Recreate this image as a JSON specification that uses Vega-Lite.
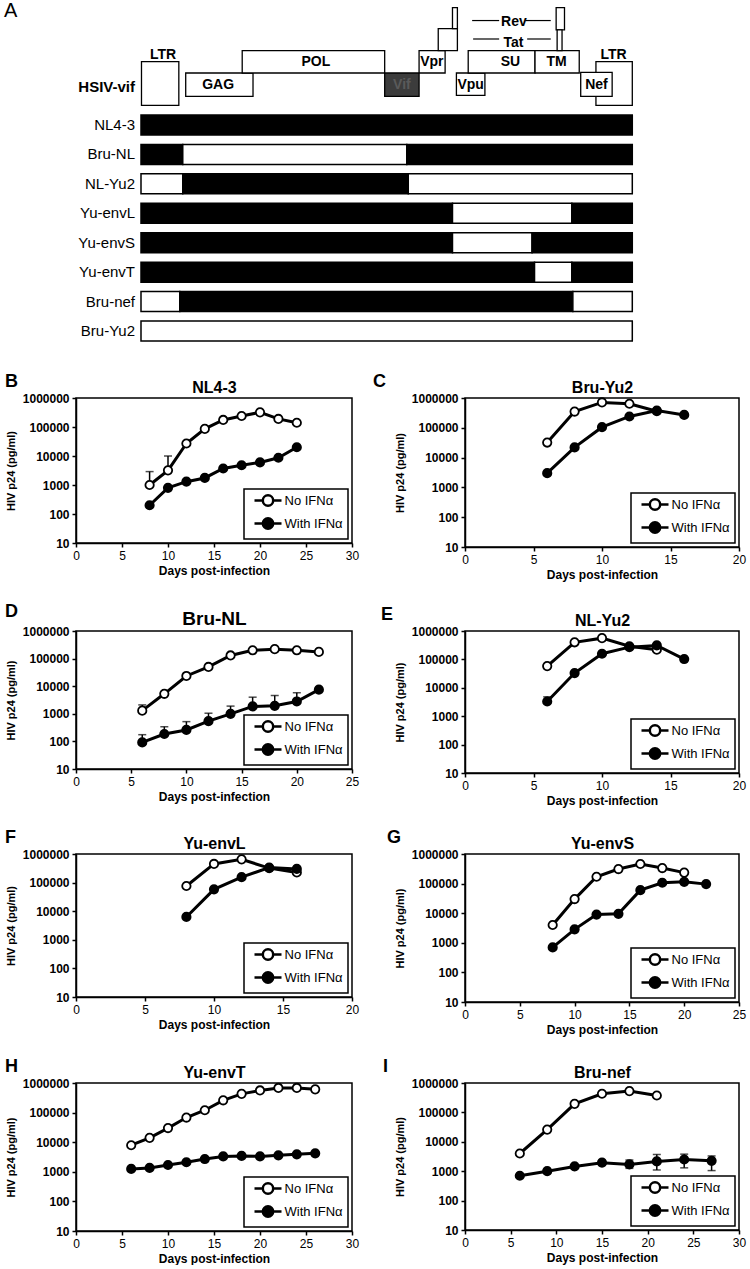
{
"$schema": "https://vega.github.io/schema/vega-lite/v6.json",
"background": "white",
"padding": {"left": 4, "top": 0, "right": 4, "bottom": 0},
"spacing": 21,
"resolve": {"scale": {"fill": "independent"}, "legend": {"fill": "independent"}},
"datasets": {
"strains": [
{"strain": "NL4-3", "track": 1, "start": 0, "end": 1000, "seq": "NL4-3"},
{"strain": "Bru-NL", "track": 2, "start": 0, "end": 85, "seq": "NL4-3"},
{"strain": "Bru-NL", "track": 2, "start": 85, "end": 541, "seq": "non-NL4-3"},
{"strain": "Bru-NL", "track": 2, "start": 541, "end": 1000, "seq": "NL4-3"},
{"strain": "NL-Yu2", "track": 3, "start": 0, "end": 85, "seq": "non-NL4-3"},
{"strain": "NL-Yu2", "track": 3, "start": 85, "end": 544, "seq": "NL4-3"},
{"strain": "NL-Yu2", "track": 3, "start": 544, "end": 1000, "seq": "non-NL4-3"},
{"strain": "Yu-envL", "track": 4, "start": 0, "end": 634, "seq": "NL4-3"},
{"strain": "Yu-envL", "track": 4, "start": 634, "end": 877, "seq": "non-NL4-3"},
{"strain": "Yu-envL", "track": 4, "start": 877, "end": 1000, "seq": "NL4-3"},
{"strain": "Yu-envS", "track": 5, "start": 0, "end": 634, "seq": "NL4-3"},
{"strain": "Yu-envS", "track": 5, "start": 634, "end": 796, "seq": "non-NL4-3"},
{"strain": "Yu-envS", "track": 5, "start": 796, "end": 1000, "seq": "NL4-3"},
{"strain": "Yu-envT", "track": 6, "start": 0, "end": 801, "seq": "NL4-3"},
{"strain": "Yu-envT", "track": 6, "start": 801, "end": 877, "seq": "non-NL4-3"},
{"strain": "Yu-envT", "track": 6, "start": 877, "end": 1000, "seq": "NL4-3"},
{"strain": "Bru-nef", "track": 7, "start": 0, "end": 79, "seq": "non-NL4-3"},
{"strain": "Bru-nef", "track": 7, "start": 79, "end": 879, "seq": "NL4-3"},
{"strain": "Bru-nef", "track": 7, "start": 879, "end": 1000, "seq": "non-NL4-3"},
{"strain": "Bru-Yu2", "track": 8, "start": 0, "end": 1000, "seq": "non-NL4-3"}
],
"genes": [
{"gene": "LTR", "start": 1, "end": 77, "top": -1.152, "bottom": 0.333},
{"gene": "GAG", "start": 91, "end": 228, "top": -0.766, "bottom": 0.026},
{"gene": "POL", "start": 206, "end": 496, "top": -1.525, "bottom": -0.766},
{"gene": "Vif", "start": 496, "end": 566, "top": -0.766, "bottom": 0.026},
{"gene": "Vpr", "start": 566, "end": 619, "top": -1.525, "bottom": -0.766},
{"gene": "Vpr exon", "start": 605, "end": 644, "top": -2.274, "bottom": -1.525},
{"gene": "Vpr tail", "start": 634, "end": 644, "top": -2.987, "bottom": -2.274},
{"gene": "Vpu", "start": 642, "end": 700, "top": -0.766, "bottom": -0.007},
{"gene": "SU", "start": 666, "end": 802, "top": -1.525, "bottom": -0.766},
{"gene": "TM", "start": 802, "end": 892, "top": -1.525, "bottom": -0.766},
{"gene": "Rev exon", "start": 845, "end": 862, "top": -2.987, "bottom": -2.228},
{"gene": "Tat exon", "start": 847, "end": 857, "top": -2.228, "bottom": -1.525},
{"gene": "LTR", "start": 926, "end": 1000, "top": -1.152, "bottom": 0.333},
{"gene": "Nef", "start": 895, "end": 959, "top": -0.789, "bottom": 0.026}
],
"glabels": [
{"label": "LTR", "pos": 45, "track": -1.393},
{"label": "LTR", "pos": 962, "track": -1.393},
{"label": "GAG", "pos": 157, "track": -0.37},
{"label": "POL", "pos": 356, "track": -1.129},
{"label": "Vif", "pos": 531, "track": -0.37},
{"label": "Vpr", "pos": 592, "track": -1.129},
{"label": "Vpu", "pos": 671, "track": -0.37},
{"label": "SU", "pos": 752, "track": -1.129},
{"label": "TM", "pos": 846, "track": -1.129},
{"label": "Nef", "pos": 927, "track": -0.37},
{"label": "Rev", "pos": 759, "track": -2.515},
{"label": "Tat", "pos": 758, "track": -1.772}
],
"revtat": [
{"label": "Rev", "start": 674, "end": 729, "track": -2.548},
{"label": "Rev", "start": 782, "end": 834, "track": -2.548},
{"label": "Tat", "start": 676, "end": 729, "track": -1.921},
{"label": "Tat", "start": 786, "end": 834, "track": -1.921}
],
"construct": [
{"label": "HSIV-vif", "track": -0.304}
],
"p24": [
{"panel": "B", "series": "No IFNα", "day": 8, "p24": 1000},
{"panel": "B", "series": "No IFNα", "day": 10, "p24": 3200},
{"panel": "B", "series": "No IFNα", "day": 12, "p24": 27000},
{"panel": "B", "series": "No IFNα", "day": 14, "p24": 86000},
{"panel": "B", "series": "No IFNα", "day": 16, "p24": 175000},
{"panel": "B", "series": "No IFNα", "day": 18, "p24": 240000},
{"panel": "B", "series": "No IFNα", "day": 20, "p24": 320000},
{"panel": "B", "series": "No IFNα", "day": 22, "p24": 190000},
{"panel": "B", "series": "No IFNα", "day": 24, "p24": 140000},
{"panel": "B", "series": "With IFNα", "day": 8, "p24": 200},
{"panel": "B", "series": "With IFNα", "day": 10, "p24": 800},
{"panel": "B", "series": "With IFNα", "day": 12, "p24": 1300},
{"panel": "B", "series": "With IFNα", "day": 14, "p24": 1750},
{"panel": "B", "series": "With IFNα", "day": 16, "p24": 3700},
{"panel": "B", "series": "With IFNα", "day": 18, "p24": 4800},
{"panel": "B", "series": "With IFNα", "day": 20, "p24": 6000},
{"panel": "B", "series": "With IFNα", "day": 22, "p24": 8700},
{"panel": "B", "series": "With IFNα", "day": 24, "p24": 20000},
{"panel": "C", "series": "No IFNα", "day": 6, "p24": 32000},
{"panel": "C", "series": "No IFNα", "day": 8, "p24": 350000},
{"panel": "C", "series": "No IFNα", "day": 10, "p24": 710000},
{"panel": "C", "series": "No IFNα", "day": 12, "p24": 640000},
{"panel": "C", "series": "No IFNα", "day": 14, "p24": 360000},
{"panel": "C", "series": "With IFNα", "day": 6, "p24": 3000},
{"panel": "C", "series": "With IFNα", "day": 8, "p24": 22000},
{"panel": "C", "series": "With IFNα", "day": 10, "p24": 105000},
{"panel": "C", "series": "With IFNα", "day": 12, "p24": 240000},
{"panel": "C", "series": "With IFNα", "day": 14, "p24": 380000},
{"panel": "C", "series": "With IFNα", "day": 16, "p24": 270000},
{"panel": "D", "series": "No IFNα", "day": 6, "p24": 1300},
{"panel": "D", "series": "No IFNα", "day": 8, "p24": 5300},
{"panel": "D", "series": "No IFNα", "day": 10, "p24": 23500},
{"panel": "D", "series": "No IFNα", "day": 12, "p24": 50000},
{"panel": "D", "series": "No IFNα", "day": 14, "p24": 130000},
{"panel": "D", "series": "No IFNα", "day": 16, "p24": 200000},
{"panel": "D", "series": "No IFNα", "day": 18, "p24": 220000},
{"panel": "D", "series": "No IFNα", "day": 20, "p24": 200000},
{"panel": "D", "series": "No IFNα", "day": 22, "p24": 175000},
{"panel": "D", "series": "With IFNα", "day": 6, "p24": 92},
{"panel": "D", "series": "With IFNα", "day": 8, "p24": 185},
{"panel": "D", "series": "With IFNα", "day": 10, "p24": 260},
{"panel": "D", "series": "With IFNα", "day": 12, "p24": 540},
{"panel": "D", "series": "With IFNα", "day": 14, "p24": 1000},
{"panel": "D", "series": "With IFNα", "day": 16, "p24": 1850},
{"panel": "D", "series": "With IFNα", "day": 18, "p24": 1950},
{"panel": "D", "series": "With IFNα", "day": 20, "p24": 2800},
{"panel": "D", "series": "With IFNα", "day": 22, "p24": 7500},
{"panel": "E", "series": "No IFNα", "day": 6, "p24": 58000},
{"panel": "E", "series": "No IFNα", "day": 8, "p24": 400000},
{"panel": "E", "series": "No IFNα", "day": 10, "p24": 560000},
{"panel": "E", "series": "No IFNα", "day": 12, "p24": 290000},
{"panel": "E", "series": "No IFNα", "day": 14, "p24": 220000},
{"panel": "E", "series": "With IFNα", "day": 6, "p24": 3300},
{"panel": "E", "series": "With IFNα", "day": 8, "p24": 33000},
{"panel": "E", "series": "With IFNα", "day": 10, "p24": 158000},
{"panel": "E", "series": "With IFNα", "day": 12, "p24": 270000},
{"panel": "E", "series": "With IFNα", "day": 14, "p24": 310000},
{"panel": "E", "series": "With IFNα", "day": 16, "p24": 103000},
{"panel": "F", "series": "No IFNα", "day": 8, "p24": 76000},
{"panel": "F", "series": "No IFNα", "day": 10, "p24": 450000},
{"panel": "F", "series": "No IFNα", "day": 12, "p24": 650000},
{"panel": "F", "series": "No IFNα", "day": 14, "p24": 320000},
{"panel": "F", "series": "No IFNα", "day": 16, "p24": 225000},
{"panel": "F", "series": "With IFNα", "day": 8, "p24": 6300},
{"panel": "F", "series": "With IFNα", "day": 10, "p24": 58000},
{"panel": "F", "series": "With IFNα", "day": 12, "p24": 155000},
{"panel": "F", "series": "With IFNα", "day": 14, "p24": 335000},
{"panel": "F", "series": "With IFNα", "day": 16, "p24": 300000},
{"panel": "G", "series": "No IFNα", "day": 8, "p24": 4000},
{"panel": "G", "series": "No IFNα", "day": 10, "p24": 30000},
{"panel": "G", "series": "No IFNα", "day": 12, "p24": 170000},
{"panel": "G", "series": "No IFNα", "day": 14, "p24": 310000},
{"panel": "G", "series": "No IFNα", "day": 16, "p24": 460000},
{"panel": "G", "series": "No IFNα", "day": 18, "p24": 335000},
{"panel": "G", "series": "No IFNα", "day": 20, "p24": 235000},
{"panel": "G", "series": "With IFNα", "day": 8, "p24": 700},
{"panel": "G", "series": "With IFNα", "day": 10, "p24": 2850},
{"panel": "G", "series": "With IFNα", "day": 12, "p24": 9000},
{"panel": "G", "series": "With IFNα", "day": 14, "p24": 9500},
{"panel": "G", "series": "With IFNα", "day": 16, "p24": 60000},
{"panel": "G", "series": "With IFNα", "day": 18, "p24": 107000},
{"panel": "G", "series": "With IFNα", "day": 20, "p24": 115000},
{"panel": "G", "series": "With IFNα", "day": 22, "p24": 96000},
{"panel": "H", "series": "No IFNα", "day": 6, "p24": 7900},
{"panel": "H", "series": "No IFNα", "day": 8, "p24": 14000},
{"panel": "H", "series": "No IFNα", "day": 10, "p24": 30000},
{"panel": "H", "series": "No IFNα", "day": 12, "p24": 68000},
{"panel": "H", "series": "No IFNα", "day": 14, "p24": 120000},
{"panel": "H", "series": "No IFNα", "day": 16, "p24": 260000},
{"panel": "H", "series": "No IFNα", "day": 18, "p24": 430000},
{"panel": "H", "series": "No IFNα", "day": 20, "p24": 560000},
{"panel": "H", "series": "No IFNα", "day": 22, "p24": 680000},
{"panel": "H", "series": "No IFNα", "day": 24, "p24": 680000},
{"panel": "H", "series": "No IFNα", "day": 26, "p24": 610000},
{"panel": "H", "series": "With IFNα", "day": 6, "p24": 1250},
{"panel": "H", "series": "With IFNα", "day": 8, "p24": 1350},
{"panel": "H", "series": "With IFNα", "day": 10, "p24": 1700},
{"panel": "H", "series": "With IFNα", "day": 12, "p24": 2100},
{"panel": "H", "series": "With IFNα", "day": 14, "p24": 2700},
{"panel": "H", "series": "With IFNα", "day": 16, "p24": 3300},
{"panel": "H", "series": "With IFNα", "day": 18, "p24": 3450},
{"panel": "H", "series": "With IFNα", "day": 20, "p24": 3300},
{"panel": "H", "series": "With IFNα", "day": 22, "p24": 3600},
{"panel": "H", "series": "With IFNα", "day": 24, "p24": 3900},
{"panel": "H", "series": "With IFNα", "day": 26, "p24": 4200},
{"panel": "I", "series": "No IFNα", "day": 6, "p24": 4000},
{"panel": "I", "series": "No IFNα", "day": 9, "p24": 26000},
{"panel": "I", "series": "No IFNα", "day": 12, "p24": 195000},
{"panel": "I", "series": "No IFNα", "day": 15, "p24": 430000},
{"panel": "I", "series": "No IFNα", "day": 18, "p24": 530000},
{"panel": "I", "series": "No IFNα", "day": 21, "p24": 375000},
{"panel": "I", "series": "With IFNα", "day": 6, "p24": 700},
{"panel": "I", "series": "With IFNα", "day": 9, "p24": 1000},
{"panel": "I", "series": "With IFNα", "day": 12, "p24": 1450},
{"panel": "I", "series": "With IFNα", "day": 15, "p24": 1950},
{"panel": "I", "series": "With IFNα", "day": 18, "p24": 1700},
{"panel": "I", "series": "With IFNα", "day": 21, "p24": 2150},
{"panel": "I", "series": "With IFNα", "day": 24, "p24": 2500},
{"panel": "I", "series": "With IFNα", "day": 27, "p24": 2250}
],
"err": [
{"panel": "B", "series": "No IFNα", "day": 8, "lo": 1000, "hi": 2900},
{"panel": "B", "series": "No IFNα", "day": 10, "lo": 3200, "hi": 10000},
{"panel": "D", "series": "No IFNα", "day": 6, "lo": 1300, "hi": 2100},
{"panel": "D", "series": "With IFNα", "day": 6, "lo": 92, "hi": 175},
{"panel": "D", "series": "With IFNα", "day": 8, "lo": 185, "hi": 340},
{"panel": "D", "series": "With IFNα", "day": 10, "lo": 260, "hi": 520},
{"panel": "D", "series": "With IFNα", "day": 12, "lo": 540, "hi": 1050},
{"panel": "D", "series": "With IFNα", "day": 14, "lo": 1000, "hi": 1900},
{"panel": "D", "series": "With IFNα", "day": 16, "lo": 1850, "hi": 4000},
{"panel": "D", "series": "With IFNα", "day": 18, "lo": 1950, "hi": 4600},
{"panel": "D", "series": "With IFNα", "day": 20, "lo": 2800, "hi": 5800},
{"panel": "E", "series": "With IFNα", "day": 6, "lo": 3300, "hi": 4800},
{"panel": "I", "series": "With IFNα", "day": 15, "lo": 1650, "hi": 2300},
{"panel": "I", "series": "With IFNα", "day": 18, "lo": 1250, "hi": 2400},
{"panel": "I", "series": "With IFNα", "day": 21, "lo": 1100, "hi": 3700},
{"panel": "I", "series": "With IFNα", "day": 24, "lo": 1300, "hi": 3800},
{"panel": "I", "series": "With IFNα", "day": 27, "lo": 1050, "hi": 3300}
]
},
"vconcat": [
{
"width": 669, "height": 351,
"view": {"stroke": null},
"title": {"text": "A", "anchor": "start", "frame": "group", "fontSize": 20, "fontWeight": "normal", "offset": -21, "dx": -72},
"layer": [
{"data": {"name": "genes"},
 "mark": {"type": "rect", "stroke": "black", "strokeWidth": 1.3},
 "encoding": {
  "x": {"field": "start", "type": "quantitative", "scale": {"domain": [-132.3, 1229.4]}, "axis": null},
  "x2": {"field": "end"},
  "y": {"field": "top", "type": "quantitative", "scale": {"domain": [-3.076, 8.508], "reverse": true}, "axis": null},
  "y2": {"field": "bottom"},
  "fill": {"condition": {"test": "datum.gene === 'Vif'", "value": "#3c3c3c"}, "value": "white"}}},
{"data": {"name": "revtat"},
 "mark": {"type": "rule", "color": "black", "strokeWidth": 1.2},
 "encoding": {
  "x": {"field": "start", "type": "quantitative", "scale": {"domain": [-132.3, 1229.4]}, "axis": null},
  "x2": {"field": "end"},
  "y": {"field": "track", "type": "quantitative", "scale": {"domain": [-3.076, 8.508], "reverse": true}, "axis": null}}},
{"data": {"name": "glabels"},
 "mark": {"type": "text", "fontSize": 14, "fontWeight": "bold", "align": "center", "baseline": "middle"},
 "encoding": {
  "x": {"field": "pos", "type": "quantitative", "scale": {"domain": [-132.3, 1229.4]}, "axis": null},
  "y": {"field": "track", "type": "quantitative", "scale": {"domain": [-3.076, 8.508], "reverse": true}, "axis": null},
  "text": {"field": "label"},
  "color": {"condition": {"test": "datum.label === 'Vif'", "value": "#5a5a5a"}, "value": "black"}}},
{"data": {"name": "construct"},
 "mark": {"type": "text", "fontSize": 15, "fontWeight": "bold", "align": "right", "baseline": "middle", "dx": -6, "color": "black"},
 "encoding": {
  "x": {"datum": 0, "type": "quantitative", "scale": {"domain": [-132.3, 1229.4]}, "axis": null},
  "y": {"field": "track", "type": "quantitative", "scale": {"domain": [-3.076, 8.508], "reverse": true}, "axis": null},
  "text": {"field": "label"}}},
{"data": {"name": "strains"},
 "mark": {"type": "bar", "orient": "horizontal", "size": 20, "stroke": "black", "strokeWidth": 1.5},
 "encoding": {
  "x": {"field": "start", "type": "quantitative", "scale": {"domain": [-132.3, 1229.4]}, "axis": null},
  "x2": {"field": "end"},
  "y": {"field": "track", "type": "quantitative", "scale": {"domain": [-3.076, 8.508], "reverse": true}, "axis": null},
  "fill": {"field": "seq", "type": "nominal", "scale": {"domain": ["NL4-3", "non-NL4-3"], "range": ["black", "white"]}, "legend": null}}},
{"data": {"name": "strains"},
 "transform": [{"filter": "datum.start === 0"}],
 "mark": {"type": "text", "fontSize": 15, "align": "right", "baseline": "middle", "dx": -6, "color": "black"},
 "encoding": {
  "x": {"datum": 0, "type": "quantitative", "scale": {"domain": [-132.3, 1229.4]}, "axis": null},
  "y": {"field": "track", "type": "quantitative", "scale": {"domain": [-3.076, 8.508], "reverse": true}, "axis": null},
  "text": {"field": "strain"}}}
]
},
{
"hconcat": [
{
"width": 276, "height": 145,
"title": {"text": "B", "anchor": "start", "frame": "bounds", "fontSize": 18, "fontWeight": "bold", "offset": -12},
"resolve": {"axis": {"x": "independent", "y": "independent"}},
"layer": [
{"data": {"name": "err"}, "transform": [{"filter": "datum.panel === 'B'"}],
 "mark": {"type": "errorbar", "ticks": {"size": 8, "thickness": 1.5, "color": "black"}, "rule": {"strokeWidth": 1.5, "color": "black"}},
 "encoding": {"x": {"field": "day", "type": "quantitative", "scale": {"domain": [0, 30]}, "axis": null},
  "y": {"field": "lo", "type": "quantitative", "scale": {"type": "log", "domain": [10, 1000000]}, "axis": null}, "y2": {"field": "hi"}}},
{"data": {"name": "p24"}, "transform": [{"filter": "datum.panel === 'B'"}],
 "mark": {"type": "line", "color": "black", "strokeWidth": 3},
 "encoding": {"x": {"field": "day", "type": "quantitative", "scale": {"domain": [0, 30]}, "axis": {"orient": "top", "title": "NL4-3", "labels": false, "ticks": false, "domain": false, "titleFontSize": 16, "titlePadding": 3}},
  "y": {"field": "p24", "type": "quantitative", "scale": {"type": "log", "domain": [10, 1000000]}, "axis": null},
  "detail": {"field": "series"}}},
{"data": {"name": "p24"}, "transform": [{"filter": "datum.panel === 'B'"}],
 "mark": {"type": "point", "shape": "circle", "filled": true, "size": 70, "stroke": "black", "strokeWidth": 1.8, "opacity": 1},
 "encoding": {"x": {"field": "day", "type": "quantitative", "scale": {"domain": [0, 30]}, "title": "Days post-infection", "axis": {"values": [0, 5, 10, 15, 20, 25, 30]}},
  "y": {"field": "p24", "type": "quantitative", "scale": {"type": "log", "domain": [10, 1000000]}, "title": "HIV p24 (pg/ml)", "axis": {"values": [10, 100, 1000, 10000, 100000, 1000000], "format": "d"}},
  "fill": {"field": "series", "type": "nominal", "scale": {"domain": ["No IFNα", "With IFNα"], "range": ["white", "black"]}, "legend": {"title": null}}}}
]
},
{
"width": 274, "height": 149,
"title": {"text": "C", "anchor": "start", "frame": "bounds", "fontSize": 18, "fontWeight": "bold", "offset": -12, "dx": -21},
"resolve": {"axis": {"x": "independent", "y": "independent"}},
"layer": [
{"data": {"name": "p24"}, "transform": [{"filter": "datum.panel === 'C'"}],
 "mark": {"type": "line", "color": "black", "strokeWidth": 3},
 "encoding": {"x": {"field": "day", "type": "quantitative", "scale": {"domain": [0, 20]}, "axis": {"orient": "top", "title": "Bru-Yu2", "labels": false, "ticks": false, "domain": false, "titleFontSize": 16, "titlePadding": 3}},
  "y": {"field": "p24", "type": "quantitative", "scale": {"type": "log", "domain": [10, 1000000]}, "axis": null},
  "detail": {"field": "series"}}},
{"data": {"name": "p24"}, "transform": [{"filter": "datum.panel === 'C'"}],
 "mark": {"type": "point", "shape": "circle", "filled": true, "size": 70, "stroke": "black", "strokeWidth": 1.8, "opacity": 1},
 "encoding": {"x": {"field": "day", "type": "quantitative", "scale": {"domain": [0, 20]}, "title": "Days post-infection", "axis": {"values": [0, 5, 10, 15, 20]}},
  "y": {"field": "p24", "type": "quantitative", "scale": {"type": "log", "domain": [10, 1000000]}, "title": "HIV p24 (pg/ml)", "axis": {"values": [10, 100, 1000, 10000, 100000, 1000000], "format": "d"}},
  "fill": {"field": "series", "type": "nominal", "scale": {"domain": ["No IFNα", "With IFNα"], "range": ["white", "black"]}, "legend": {"title": null}}}}
]
}
],
"spacing": 113, "bounds": "flush",
"resolve": {"scale": {"fill": "independent"}, "legend": {"fill": "independent"}}
},
{
"hconcat": [
{
"width": 276, "height": 138,
"title": {"text": "D", "anchor": "start", "frame": "bounds", "fontSize": 18, "fontWeight": "bold", "offset": -12},
"resolve": {"axis": {"x": "independent", "y": "independent"}},
"layer": [
{"data": {"name": "err"}, "transform": [{"filter": "datum.panel === 'D'"}],
 "mark": {"type": "errorbar", "ticks": {"size": 8, "thickness": 1.5, "color": "black"}, "rule": {"strokeWidth": 1.5, "color": "black"}},
 "encoding": {"x": {"field": "day", "type": "quantitative", "scale": {"domain": [0, 25]}, "axis": null},
  "y": {"field": "lo", "type": "quantitative", "scale": {"type": "log", "domain": [10, 1000000]}, "axis": null}, "y2": {"field": "hi"}}},
{"data": {"name": "p24"}, "transform": [{"filter": "datum.panel === 'D'"}],
 "mark": {"type": "line", "color": "black", "strokeWidth": 3},
 "encoding": {"x": {"field": "day", "type": "quantitative", "scale": {"domain": [0, 25]}, "axis": {"orient": "top", "title": "Bru-NL", "labels": false, "ticks": false, "domain": false, "titleFontSize": 19, "titlePadding": 3}},
  "y": {"field": "p24", "type": "quantitative", "scale": {"type": "log", "domain": [10, 1000000]}, "axis": null},
  "detail": {"field": "series"}}},
{"data": {"name": "p24"}, "transform": [{"filter": "datum.panel === 'D'"}],
 "mark": {"type": "point", "shape": "circle", "filled": true, "size": 70, "stroke": "black", "strokeWidth": 1.8, "opacity": 1},
 "encoding": {"x": {"field": "day", "type": "quantitative", "scale": {"domain": [0, 25]}, "title": "Days post-infection", "axis": {"values": [0, 5, 10, 15, 20, 25]}},
  "y": {"field": "p24", "type": "quantitative", "scale": {"type": "log", "domain": [10, 1000000]}, "title": "HIV p24 (pg/ml)", "axis": {"values": [10, 100, 1000, 10000, 100000, 1000000], "format": "d"}},
  "fill": {"field": "series", "type": "nominal", "scale": {"domain": ["No IFNα", "With IFNα"], "range": ["white", "black"]}, "legend": {"title": null}}}}
]
},
{
"width": 274, "height": 142,
"title": {"text": "E", "anchor": "start", "frame": "bounds", "fontSize": 18, "fontWeight": "bold", "offset": -12, "dx": -13},
"resolve": {"axis": {"x": "independent", "y": "independent"}},
"layer": [
{"data": {"name": "err"}, "transform": [{"filter": "datum.panel === 'E'"}],
 "mark": {"type": "errorbar", "ticks": {"size": 8, "thickness": 1.5, "color": "black"}, "rule": {"strokeWidth": 1.5, "color": "black"}},
 "encoding": {"x": {"field": "day", "type": "quantitative", "scale": {"domain": [0, 20]}, "axis": null},
  "y": {"field": "lo", "type": "quantitative", "scale": {"type": "log", "domain": [10, 1000000]}, "axis": null}, "y2": {"field": "hi"}}},
{"data": {"name": "p24"}, "transform": [{"filter": "datum.panel === 'E'"}],
 "mark": {"type": "line", "color": "black", "strokeWidth": 3},
 "encoding": {"x": {"field": "day", "type": "quantitative", "scale": {"domain": [0, 20]}, "axis": {"orient": "top", "title": "NL-Yu2", "labels": false, "ticks": false, "domain": false, "titleFontSize": 16, "titlePadding": 3}},
  "y": {"field": "p24", "type": "quantitative", "scale": {"type": "log", "domain": [10, 1000000]}, "axis": null},
  "detail": {"field": "series"}}},
{"data": {"name": "p24"}, "transform": [{"filter": "datum.panel === 'E'"}],
 "mark": {"type": "point", "shape": "circle", "filled": true, "size": 70, "stroke": "black", "strokeWidth": 1.8, "opacity": 1},
 "encoding": {"x": {"field": "day", "type": "quantitative", "scale": {"domain": [0, 20]}, "title": "Days post-infection", "axis": {"values": [0, 5, 10, 15, 20]}},
  "y": {"field": "p24", "type": "quantitative", "scale": {"type": "log", "domain": [10, 1000000]}, "title": "HIV p24 (pg/ml)", "axis": {"values": [10, 100, 1000, 10000, 100000, 1000000], "format": "d"}},
  "fill": {"field": "series", "type": "nominal", "scale": {"domain": ["No IFNα", "With IFNα"], "range": ["white", "black"]}, "legend": {"title": null}}}}
]
}
],
"spacing": 113, "bounds": "flush",
"resolve": {"scale": {"fill": "independent"}, "legend": {"fill": "independent"}}
},
{
"hconcat": [
{
"width": 276, "height": 143,
"title": {"text": "F", "anchor": "start", "frame": "bounds", "fontSize": 18, "fontWeight": "bold", "offset": -12},
"resolve": {"axis": {"x": "independent", "y": "independent"}},
"layer": [
{"data": {"name": "p24"}, "transform": [{"filter": "datum.panel === 'F'"}],
 "mark": {"type": "line", "color": "black", "strokeWidth": 3},
 "encoding": {"x": {"field": "day", "type": "quantitative", "scale": {"domain": [0, 20]}, "axis": {"orient": "top", "title": "Yu-envL", "labels": false, "ticks": false, "domain": false, "titleFontSize": 16, "titlePadding": 3}},
  "y": {"field": "p24", "type": "quantitative", "scale": {"type": "log", "domain": [10, 1000000]}, "axis": null},
  "detail": {"field": "series"}}},
{"data": {"name": "p24"}, "transform": [{"filter": "datum.panel === 'F'"}],
 "mark": {"type": "point", "shape": "circle", "filled": true, "size": 70, "stroke": "black", "strokeWidth": 1.8, "opacity": 1},
 "encoding": {"x": {"field": "day", "type": "quantitative", "scale": {"domain": [0, 20]}, "title": "Days post-infection", "axis": {"values": [0, 5, 10, 15, 20]}},
  "y": {"field": "p24", "type": "quantitative", "scale": {"type": "log", "domain": [10, 1000000]}, "title": "HIV p24 (pg/ml)", "axis": {"values": [10, 100, 1000, 10000, 100000, 1000000], "format": "d"}},
  "fill": {"field": "series", "type": "nominal", "scale": {"domain": ["No IFNα", "With IFNα"], "range": ["white", "black"]}, "legend": {"title": null}}}}
]
},
{
"width": 274, "height": 148,
"title": {"text": "G", "anchor": "start", "frame": "bounds", "fontSize": 18, "fontWeight": "bold", "offset": -12, "dx": -7},
"resolve": {"axis": {"x": "independent", "y": "independent"}},
"layer": [
{"data": {"name": "p24"}, "transform": [{"filter": "datum.panel === 'G'"}],
 "mark": {"type": "line", "color": "black", "strokeWidth": 3},
 "encoding": {"x": {"field": "day", "type": "quantitative", "scale": {"domain": [0, 25]}, "axis": {"orient": "top", "title": "Yu-envS", "labels": false, "ticks": false, "domain": false, "titleFontSize": 16, "titlePadding": 3}},
  "y": {"field": "p24", "type": "quantitative", "scale": {"type": "log", "domain": [10, 1000000]}, "axis": null},
  "detail": {"field": "series"}}},
{"data": {"name": "p24"}, "transform": [{"filter": "datum.panel === 'G'"}],
 "mark": {"type": "point", "shape": "circle", "filled": true, "size": 70, "stroke": "black", "strokeWidth": 1.8, "opacity": 1},
 "encoding": {"x": {"field": "day", "type": "quantitative", "scale": {"domain": [0, 25]}, "title": "Days post-infection", "axis": {"values": [0, 5, 10, 15, 20, 25]}},
  "y": {"field": "p24", "type": "quantitative", "scale": {"type": "log", "domain": [10, 1000000]}, "title": "HIV p24 (pg/ml)", "axis": {"values": [10, 100, 1000, 10000, 100000, 1000000], "format": "d"}},
  "fill": {"field": "series", "type": "nominal", "scale": {"domain": ["No IFNα", "With IFNα"], "range": ["white", "black"]}, "legend": {"title": null}}}}
]
}
],
"spacing": 113, "bounds": "flush",
"resolve": {"scale": {"fill": "independent"}, "legend": {"fill": "independent"}}
},
{
"hconcat": [
{
"width": 276, "height": 148,
"title": {"text": "H", "anchor": "start", "frame": "bounds", "fontSize": 18, "fontWeight": "bold", "offset": -12},
"resolve": {"axis": {"x": "independent", "y": "independent"}},
"layer": [
{"data": {"name": "p24"}, "transform": [{"filter": "datum.panel === 'H'"}],
 "mark": {"type": "line", "color": "black", "strokeWidth": 3},
 "encoding": {"x": {"field": "day", "type": "quantitative", "scale": {"domain": [0, 30]}, "axis": {"orient": "top", "title": "Yu-envT", "labels": false, "ticks": false, "domain": false, "titleFontSize": 16, "titlePadding": 3}},
  "y": {"field": "p24", "type": "quantitative", "scale": {"type": "log", "domain": [10, 1000000]}, "axis": null},
  "detail": {"field": "series"}}},
{"data": {"name": "p24"}, "transform": [{"filter": "datum.panel === 'H'"}],
 "mark": {"type": "point", "shape": "circle", "filled": true, "size": 70, "stroke": "black", "strokeWidth": 1.8, "opacity": 1},
 "encoding": {"x": {"field": "day", "type": "quantitative", "scale": {"domain": [0, 30]}, "title": "Days post-infection", "axis": {"values": [0, 5, 10, 15, 20, 25, 30]}},
  "y": {"field": "p24", "type": "quantitative", "scale": {"type": "log", "domain": [10, 1000000]}, "title": "HIV p24 (pg/ml)", "axis": {"values": [10, 100, 1000, 10000, 100000, 1000000], "format": "d"}},
  "fill": {"field": "series", "type": "nominal", "scale": {"domain": ["No IFNα", "With IFNα"], "range": ["white", "black"]}, "legend": {"title": null}}}}
]
},
{
"width": 274, "height": 147,
"title": {"text": "I", "anchor": "start", "frame": "bounds", "fontSize": 18, "fontWeight": "bold", "offset": -12, "dx": -11},
"resolve": {"axis": {"x": "independent", "y": "independent"}},
"layer": [
{"data": {"name": "err"}, "transform": [{"filter": "datum.panel === 'I'"}],
 "mark": {"type": "errorbar", "ticks": {"size": 8, "thickness": 1.5, "color": "black"}, "rule": {"strokeWidth": 1.5, "color": "black"}},
 "encoding": {"x": {"field": "day", "type": "quantitative", "scale": {"domain": [0, 30]}, "axis": null},
  "y": {"field": "lo", "type": "quantitative", "scale": {"type": "log", "domain": [10, 1000000]}, "axis": null}, "y2": {"field": "hi"}}},
{"data": {"name": "p24"}, "transform": [{"filter": "datum.panel === 'I'"}],
 "mark": {"type": "line", "color": "black", "strokeWidth": 3},
 "encoding": {"x": {"field": "day", "type": "quantitative", "scale": {"domain": [0, 30]}, "axis": {"orient": "top", "title": "Bru-nef", "labels": false, "ticks": false, "domain": false, "titleFontSize": 16, "titlePadding": 3}},
  "y": {"field": "p24", "type": "quantitative", "scale": {"type": "log", "domain": [10, 1000000]}, "axis": null},
  "detail": {"field": "series"}}},
{"data": {"name": "p24"}, "transform": [{"filter": "datum.panel === 'I'"}],
 "mark": {"type": "point", "shape": "circle", "filled": true, "size": 70, "stroke": "black", "strokeWidth": 1.8, "opacity": 1},
 "encoding": {"x": {"field": "day", "type": "quantitative", "scale": {"domain": [0, 30]}, "title": "Days post-infection", "axis": {"values": [0, 5, 10, 15, 20, 25, 30]}},
  "y": {"field": "p24", "type": "quantitative", "scale": {"type": "log", "domain": [10, 1000000]}, "title": "HIV p24 (pg/ml)", "axis": {"values": [10, 100, 1000, 10000, 100000, 1000000], "format": "d"}},
  "fill": {"field": "series", "type": "nominal", "scale": {"domain": ["No IFNα", "With IFNα"], "range": ["white", "black"]}, "legend": {"title": null}}}}
]
}
],
"spacing": 113, "bounds": "flush",
"resolve": {"scale": {"fill": "independent"}, "legend": {"fill": "independent"}}
}
],
"config": {
"font": "Liberation Sans",
"view": {"stroke": "black", "strokeWidth": 1.5},
"axis": {"grid": false, "domainColor": "black", "domainWidth": 1.5, "tickColor": "black", "tickWidth": 1.5, "tickSize": 4, "labelColor": "black", "titleColor": "black", "labelFont": "Liberation Sans", "titleFont": "Liberation Sans", "labelFontSize": 12, "titleFontSize": 12, "titleFontWeight": "bold", "labelPadding": 3},
"axisX": {"labelFlush": false, "titlePadding": 4},
"axisY": {"labelFontWeight": "bold", "titleFontSize": 11, "minExtent": 56, "maxExtent": 56, "titlePadding": 4},
"legend": {"orient": "bottom-right", "offset": 4, "padding": 5, "strokeColor": "black", "strokeWidth": 1.5, "fillColor": "white", "symbolType": "M-2.7,0H-1.04M1.04,0H2.7M1.04,0A1.04,1.04,0,1,1,-1.04,0A1.04,1.04,0,1,1,1.04,0Z", "symbolSize": 100, "symbolOffset": 12.5, "symbolStrokeWidth": 2.5, "symbolStrokeColor": "black", "labelFontSize": 13, "labelFont": "Liberation Sans", "labelColor": "black", "rowPadding": 2, "labelOffset": 10},
"title": {"font": "Liberation Sans", "color": "black"}
}
}
